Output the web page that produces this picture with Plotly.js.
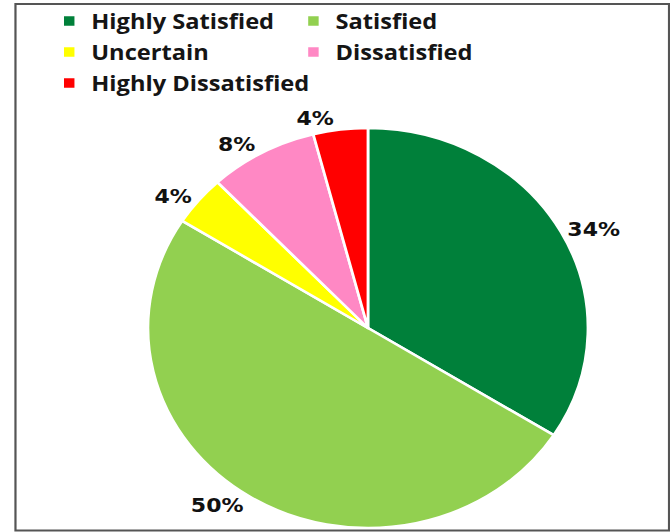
<!DOCTYPE html>
<html>
<head>
<meta charset="utf-8">
<script src="https://cdn.plot.ly/plotly-3.0.1.min.js"></script>
<style>
  html, body { margin: 0; padding: 0; background: #ffffff; overflow: hidden; }
  #wrap { width: 670px; height: 532px; overflow: hidden; }
  #chart { width: 609px; height: 532px; transform: scaleX(1.1); transform-origin: 0 0; }
</style>
</head>
<body>
<div id="wrap"><div id="chart"></div></div>
<script>
const categories = ["Highly Satisfied", "Satisfied", "Uncertain", "Dissatisfied", "Highly Dissatisfied"];
const values = [34, 50, 4, 8, 4];
const colors = ["#00803a", "#92d050", "#ffff00", "#ff88c4", "#ff0000"];

const trace = {
  type: "pie",
  labels: categories,
  values: values,
  sort: false,
  direction: "clockwise",
  rotation: 0,
  marker: { colors: colors, line: { color: "#ffffff", width: 2.5 } },
  textposition: "outside",
  texttemplate: "%{percent:.0%}",
  outsidetextfont: { family: "DejaVu Sans", size: 20, weight: "bold", color: "#111111" },
  hoverinfo: "none",
  domain: { x: [0.2209, 0.8777], y: [0.0075, 0.7594] }
};

const layout = {
  width: 609,
  height: 532,
  margin: { l: 0, r: 0, t: 0, b: 0 },
  paper_bgcolor: "#ffffff",
  showlegend: true,
  legend: {
    orientation: "h",
    x: 0.0705, xanchor: "left",
    y: 0.999, yanchor: "top",
    entrywidth: 177, entrywidthmode: "pixels",
    traceorder: "normal",
    bgcolor: "rgba(0,0,0,0)",
    font: { family: "Open Sans", size: 21.5, weight: "bold", color: "#151515" }
  },
  shapes: [{
    type: "rect", xref: "paper", yref: "paper",
    x0: 0.0231, x1: 0.9987, y0: 0.0028, y1: 0.9925,
    line: { color: "#555555", width: 2 }
  }]
};

Plotly.newPlot("chart", [trace], layout, { staticPlot: true, displayModeBar: false });
</script>
</body>
</html>
